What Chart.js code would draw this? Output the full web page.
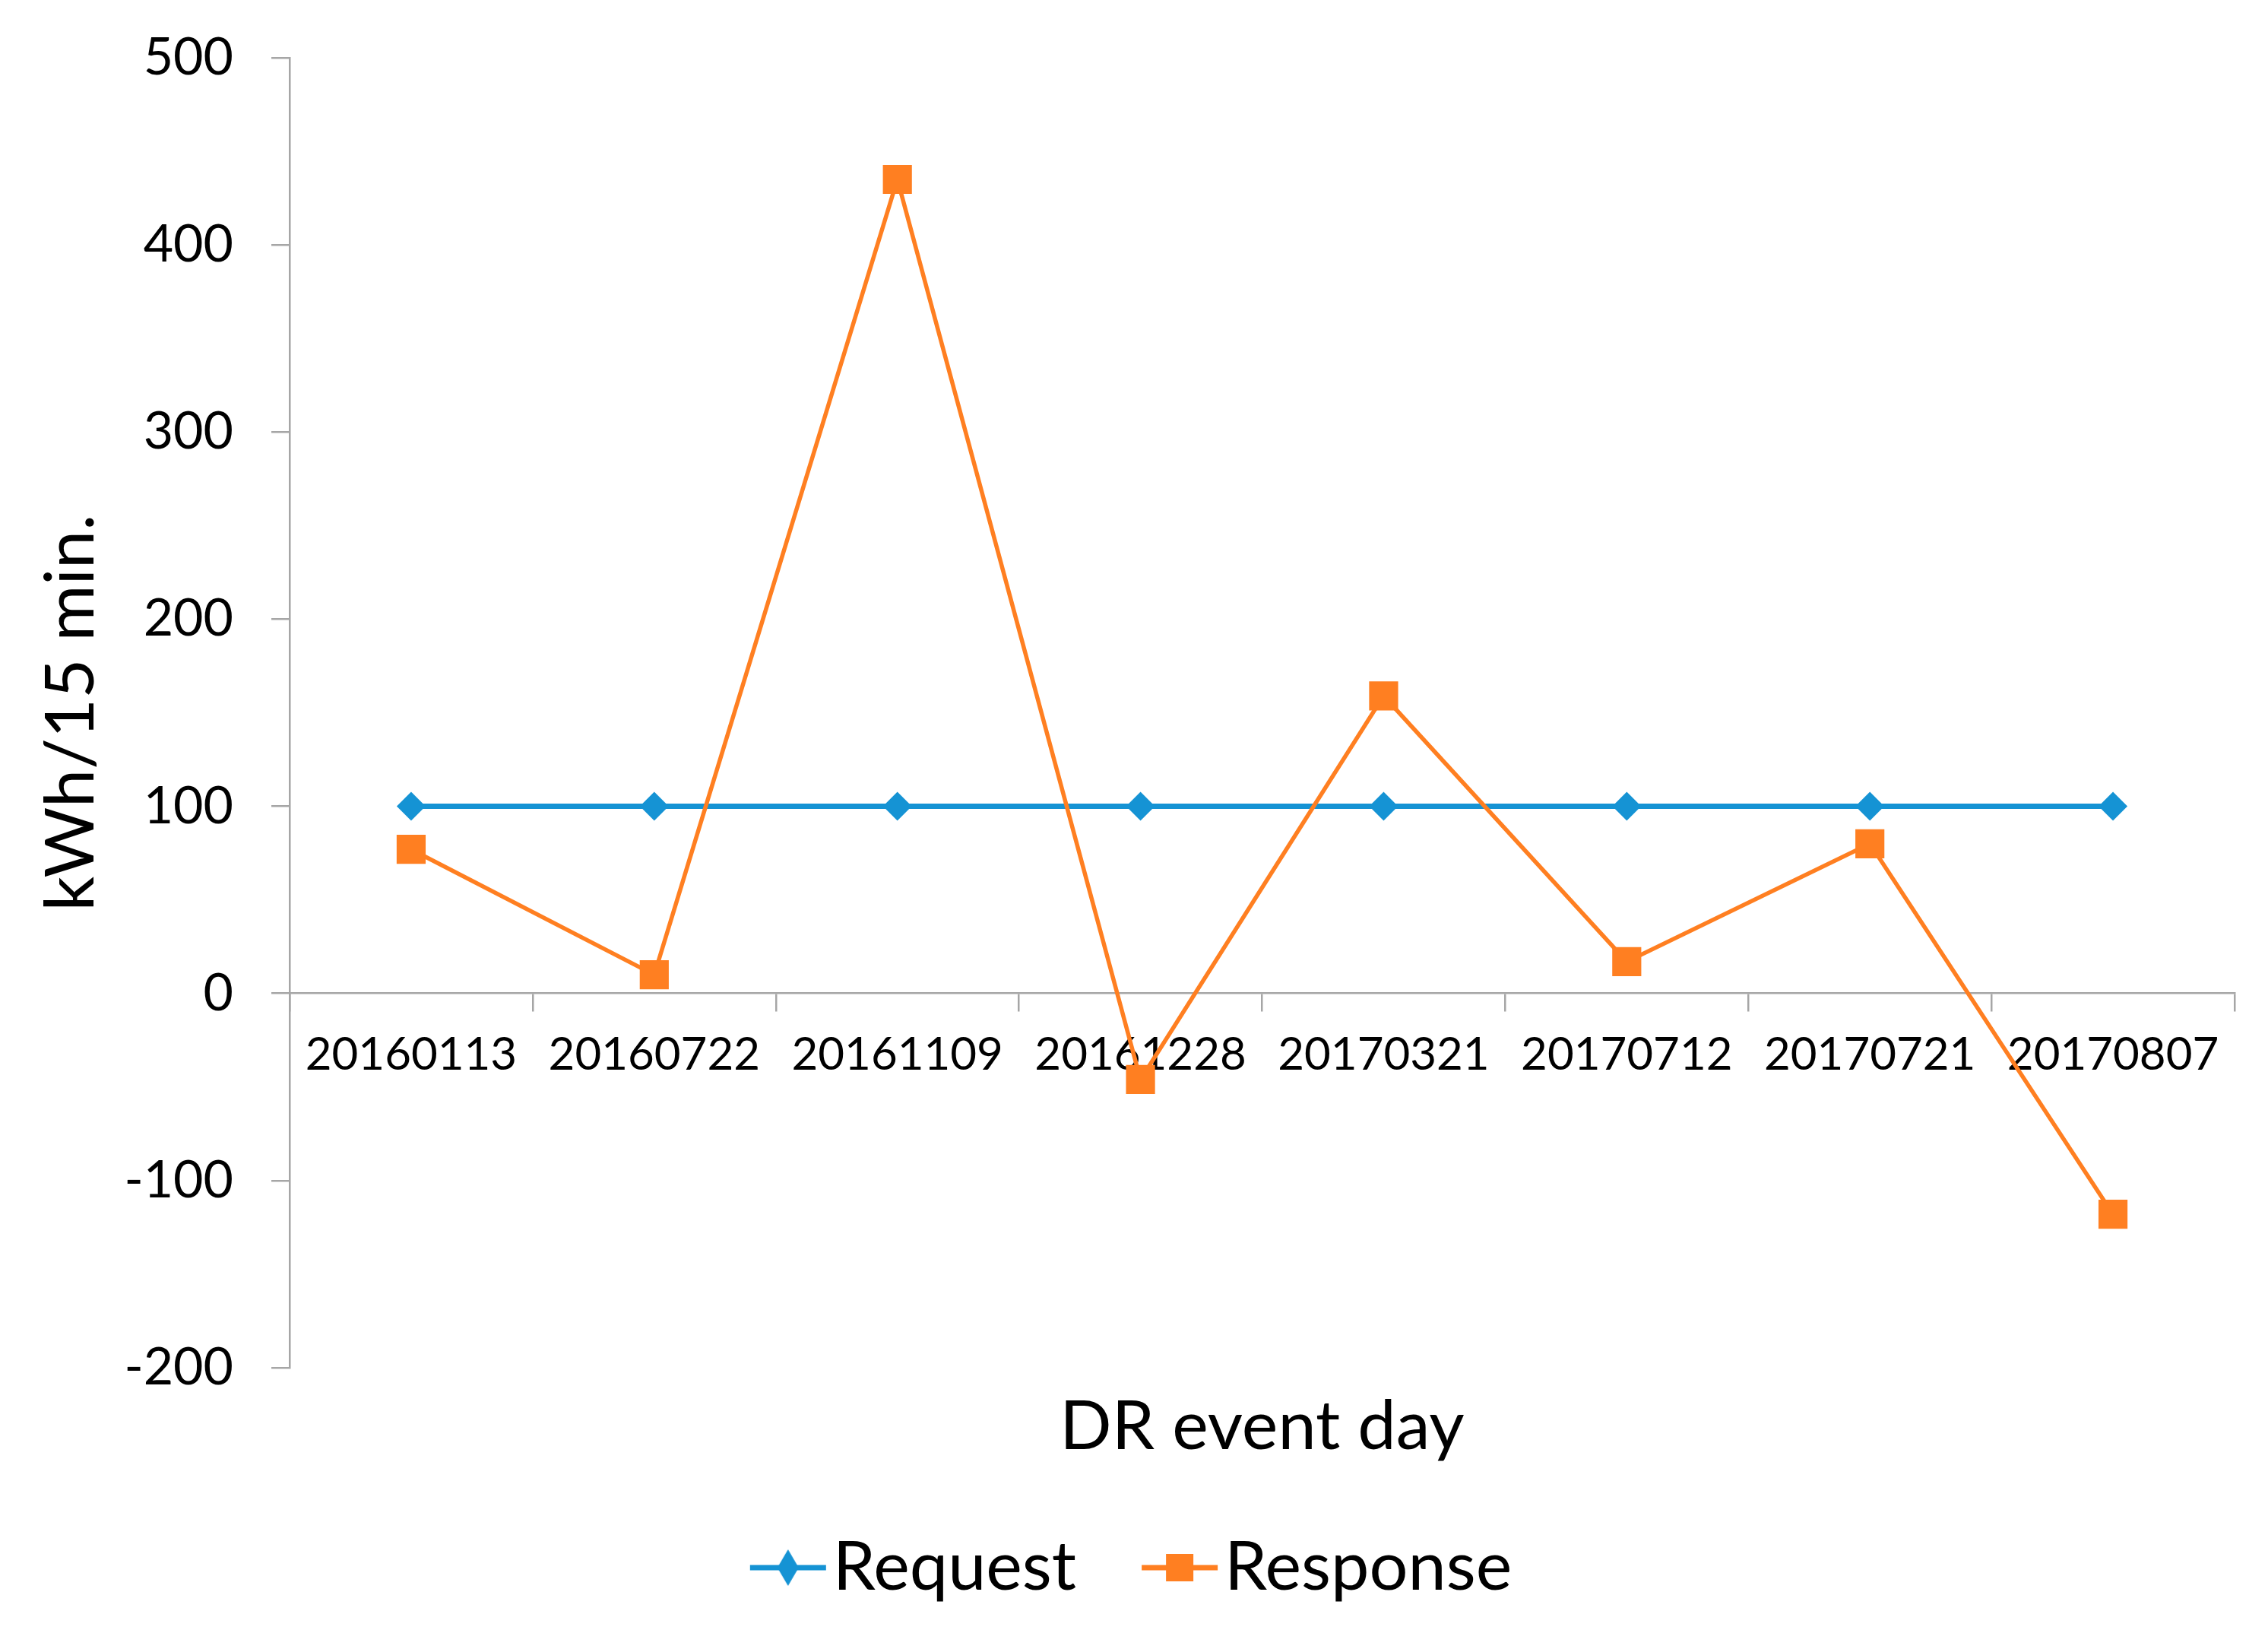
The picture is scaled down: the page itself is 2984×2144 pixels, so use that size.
<!DOCTYPE html>
<html>
<head>
<meta charset="utf-8">
<script src="https://cdn.jsdelivr.net/npm/chart.js@4/dist/chart.umd.min.js"></script>
<style>
  html, body { margin: 0; padding: 0; background: #fff; }
  #wrap { width: 2984px; height: 2144px; }
</style>
</head>
<body>
<div id="wrap"><canvas id="myChart" width="2984" height="2144"></canvas></div>
<script>
const eventDays = ["20160113", "20160722", "20161109", "20161228", "20170321", "20170712", "20170721", "20170807"];
const requestVals = [100, 100, 100, 100, 100, 100, 100, 100];
const responseVals = [77, 10, 435, -46, 159, 17, 80, -118];
const yTicks = [-200, -100, 0, 100, 200, 300, 400, 500];

const blue = "#1593d4";
const orange = "#ff7f21";
const axisGrey = "#a6a6a6";
const font = "Lato";

// small canvas used as legend symbol: line with marker in the middle
function legendSymbol(color, kind) {
  const c = document.createElement("canvas");
  c.width = 200; c.height = 60;
  const g = c.getContext("2d");
  g.strokeStyle = color;
  g.lineWidth = 7;
  g.beginPath(); g.moveTo(86, 30); g.lineTo(186, 30); g.stroke();
  g.fillStyle = color;
  if (kind == "diamond") {
    g.beginPath();
    g.moveTo(136, 6); g.lineTo(150, 30); g.lineTo(136, 54); g.lineTo(122, 30);
    g.closePath(); g.fill();
  } else {
    g.fillRect(118, 12, 36, 36);
  }
  return c;
}

const symbols = [legendSymbol(blue, "diamond"), legendSymbol(orange, "square")];

const ctx = document.querySelector("#myChart").getContext("2d");

new Chart(ctx, {
  type: "line",
  data: {
    labels: eventDays,
    datasets: [
      {
        label: "Request",
        data: requestVals,
        borderColor: blue,
        backgroundColor: blue,
        borderWidth: 7,
        pointStyle: "rectRot",
        pointRadius: 19,
        pointBorderWidth: 0,
        order: 1,
      },
      {
        label: "Response",
        data: responseVals,
        borderColor: orange,
        backgroundColor: orange,
        borderWidth: 5.5,
        pointStyle: "rect",
        pointRadius: 27,
        pointBorderWidth: 0,
        order: 0,
      },
    ],
  },
  options: {
    responsive: false,
    animation: false,
    layout: { padding: { top: 76, right: 44, bottom: 27, left: 0 } },
    plugins: {
      tooltip: { enabled: false },
      title: {
        display: true,
        text: "DR event day",
        position: "bottom",
        fullSize: false,
        weight: 500,
        color: "#000",
        font: { family: font, size: 90, weight: "normal" },
        padding: { top: 24, bottom: 36 },
      },
      legend: {
        position: "bottom",
        labels: {
          usePointStyle: true,
          pointStyleWidth: 100,
          padding: 50,
          color: "#000",
          font: { family: font, size: 90 },
          generateLabels: chart => chart.data.datasets.map((ds, i) => ({
            text: ds.label,
            pointStyle: symbols[i],
            fillStyle: ds.borderColor,
            strokeStyle: ds.borderColor,
            lineWidth: 0,
            fontColor: "#000",
            hidden: false,
            datasetIndex: i,
          })),
        },
      },
    },
    scales: {
      x: {
        type: "category",
        offset: true,
        position: { y: 0 },
        afterFit: s => { s.height = 0; },
        border: { color: axisGrey, width: 2.5 },
        grid: {
          offset: true,
          drawOnChartArea: false,
          drawTicks: true,
          tickLength: 23,
          color: axisGrey,
          lineWidth: 2.5,
        },
        ticks: {
          color: "#000",
          padding: 22,
          maxRotation: 0,
          autoSkip: false,
          font: { family: font, size: 60 },
        },
      },
      y: {
        min: -200,
        max: 500,
        afterFit: s => { s.width = 381; s.paddingTop = 0; },
        afterBuildTicks: s => { s.ticks = yTicks.map(v => ({ value: v })); },
        border: { color: axisGrey, width: 2.5 },
        grid: {
          drawOnChartArea: false,
          drawTicks: true,
          tickLength: 24,
          color: axisGrey,
          lineWidth: 2.5,
        },
        ticks: {
          color: "#000",
          padding: 50,
          font: { family: font, size: 68 },
        },
        title: {
          display: true,
          text: "kWh/15 min.",
          color: "#000",
          font: { family: font, size: 90 },
          padding: { top: 40, bottom: 0 },
        },
      },
    },
  },
});
</script>
</body>
</html>
